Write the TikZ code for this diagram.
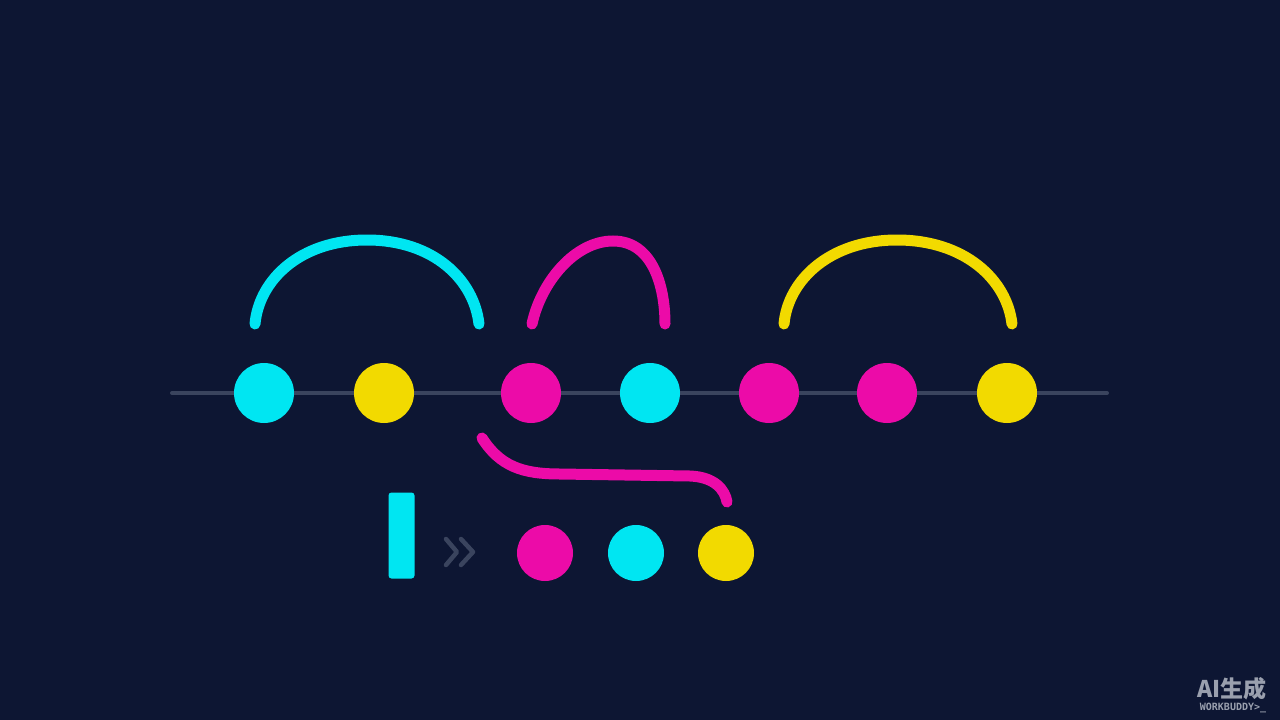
\documentclass[tikz,border=0pt]{standalone}
\usepackage{fontspec}
\newfontfamily\cjkfont{Noto Sans CJK SC}
\newfontfamily\wmfont{DejaVu Sans Mono}
\definecolor{bg}{HTML}{0D1633}
\definecolor{cyanc}{HTML}{00E6F2}
\definecolor{yellowc}{HTML}{F2DA00}
\definecolor{magc}{HTML}{EC0BA8}
\definecolor{railc}{HTML}{3A445E}
\definecolor{wmc}{HTML}{9AA0AE}
\tikzset{
  dot/.style={circle, inner sep=0pt, minimum size=60pt, draw=none},
  sdot/.style={circle, inner sep=0pt, minimum size=56pt, draw=none},
  arcline/.style={line width=11pt, line cap=round},
  rail/.style={line width=4pt, line cap=round, draw=railc},
  chev/.style={line width=4.5pt, line cap=round, line join=round, draw=railc},
}
\begin{document}
\begin{tikzpicture}[x=1pt,y=-1pt]
\fill[bg] (0,0) rectangle (1280,720);
\useasboundingbox (0,0) rectangle (1280,720);
% rail
\coordinate (r0) at (172,393);
\coordinate (r1) at (1107,393);
\draw[rail] (r0) -- (r1);
% top dots
\node[dot, fill=cyanc]   (d1) at (264,393) {};
\node[dot, fill=yellowc] (d2) at (384,393) {};
\node[dot, fill=magc]    (d3) at (531,393) {};
\node[dot, fill=cyanc]   (d4) at (650,393) {};
\node[dot, fill=magc]    (d5) at (769,393) {};
\node[dot, fill=magc]    (d6) at (887,393) {};
\node[dot, fill=yellowc] (d7) at (1007,393) {};
% arcs
\coordinate (a1s) at (255,324);
\coordinate (a1t) at (367,240);
\coordinate (a1e) at (479,324);
\draw[arcline, cyanc] (a1s) .. controls (259,280) and (300,240) .. (a1t)
  .. controls (434,240) and (474,280) .. (a1e);
\coordinate (a2s) at (532,324);
\coordinate (a2t) at (613,241);
\coordinate (a2e) at (665,324);
\draw[arcline, magc] (a2s) .. controls (541,282) and (575,241) .. (a2t)
  .. controls (652,241) and (665,285) .. (a2e);
\coordinate (a3s) at (784,324);
\coordinate (a3t) at (897,240);
\coordinate (a3e) at (1012,324);
\draw[arcline, yellowc] (a3s) .. controls (788,280) and (830,240) .. (a3t)
  .. controls (965,240) and (1007,280) .. (a3e);
% S-curve
\coordinate (s0) at (482,438);
\coordinate (s1) at (560,474);
\coordinate (s2) at (690,476);
\coordinate (s3) at (727,502);
\draw[arcline, magc] (s0) .. controls (500,466) and (522,474) .. (s1)
  -- (s2) .. controls (715,477) and (725,490) .. (s3);
% bottom bar and chevrons
\node[draw=none, fill=cyanc, rounded corners=3pt, minimum width=26pt, minimum height=86pt, inner sep=0pt] (bar) at (401.5,535.5) {};
\coordinate (c1a) at (446,539);
\coordinate (c1b) at (457,552);
\coordinate (c1c) at (446,565);
\coordinate (c2a) at (461,539);
\coordinate (c2b) at (473,552);
\coordinate (c2c) at (461,565);
\draw[chev] (c1a) -- (c1b) -- (c1c);
\draw[chev] (c2a) -- (c2b) -- (c2c);
% bottom dots
\node[sdot, fill=magc]    (b1) at (545,553) {};
\node[sdot, fill=cyanc]   (b2) at (636,553) {};
\node[sdot, fill=yellowc] (b3) at (726,553) {};
% watermark
\node[text=wmc, inner sep=0pt, anchor=center] (wm1) at (1232,689) {\cjkfont\bfseries\fontsize{23}{23}\selectfont AI生成};
\node[text=wmc, inner sep=0pt, anchor=center] (wm2) at (1233,708) {\wmfont\bfseries\fontsize{10}{10}\selectfont WORKBUDDY>\_};
\end{tikzpicture}
\end{document}
